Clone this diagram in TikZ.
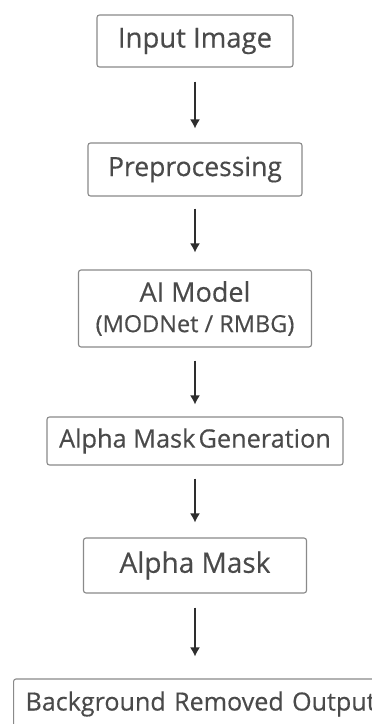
\documentclass[tikz,border=0pt]{standalone}
\usepackage{fontspec}
\setmainfont{Open Sans}[FakeBold=0.4]
\usetikzlibrary{arrows.meta}
\definecolor{boxline}{HTML}{8A8A8A}
\definecolor{boxtext}{HTML}{4A4A4A}
\definecolor{arrowcol}{HTML}{2E2E2E}
\newcommand{\fsz}[1]{\fontsize{#1}{1.2\dimexpr#1pt\relax}\selectfont}
\tikzset{
  stagebox/.style={draw=boxline, line width=1.1pt, rounded corners=2.5pt,
    text=boxtext, inner sep=0pt, align=center, font=\bfseries},
  flowarrow/.style={draw=arrowcol, line width=1.4pt,
    -{Latex[length=9pt,width=10pt]}, shorten <=14pt, shorten >=14pt}
}
\begin{document}
\begin{tikzpicture}[x=1pt,y=1pt]
  \clip (0,0) rectangle (372,724);
  \fill[white] (0,0) rectangle (372,724);

  % pipeline stages, top to bottom
  \node[stagebox, minimum width=196pt, minimum height=52pt, font=\fsz{27.5}]
    (input) at (195,683) {Input Image};
  \node[stagebox, minimum width=214pt, minimum height=53pt, font=\fsz{26.5}]
    (prep) at (195,554.5) {Preprocessing};
  \node[stagebox, minimum width=233pt, minimum height=77pt, font=\fsz{27}]
    (model) at (195,415.5)
    {AI Model\\[-2pt]{\fsz{23.5}(MODNet / RMBG)}};
  \node[stagebox, minimum width=296pt, minimum height=48pt, font=\fsz{25.3}]
    (gen) at (195,283) {Alpha Mask\hspace{0.12em}Generation};
  \node[stagebox, minimum width=223pt, minimum height=55pt, font=\fsz{28}]
    (mask) at (195,158.5) {Alpha Mask};
  \node[stagebox, anchor=west, minimum height=50pt, text width=376pt, inner xsep=12pt,
    align=left, font=\fsz{25.1}]
    (output) at (13,20) {Background Removed Output};

  % connectors
  \draw[flowarrow] (input) -- (prep);
  \draw[flowarrow, shorten <=12pt, shorten >=17pt] (prep) -- (model);
  \draw[flowarrow, shorten <=13pt, shorten >=12pt] (model) -- (gen);
  \draw[flowarrow, shorten <=13pt, shorten >=15pt] (gen) -- (mask);
  \draw[flowarrow, shorten >=22pt] (mask.south) -- (mask.south |- output.north);
\end{tikzpicture}
\end{document}
